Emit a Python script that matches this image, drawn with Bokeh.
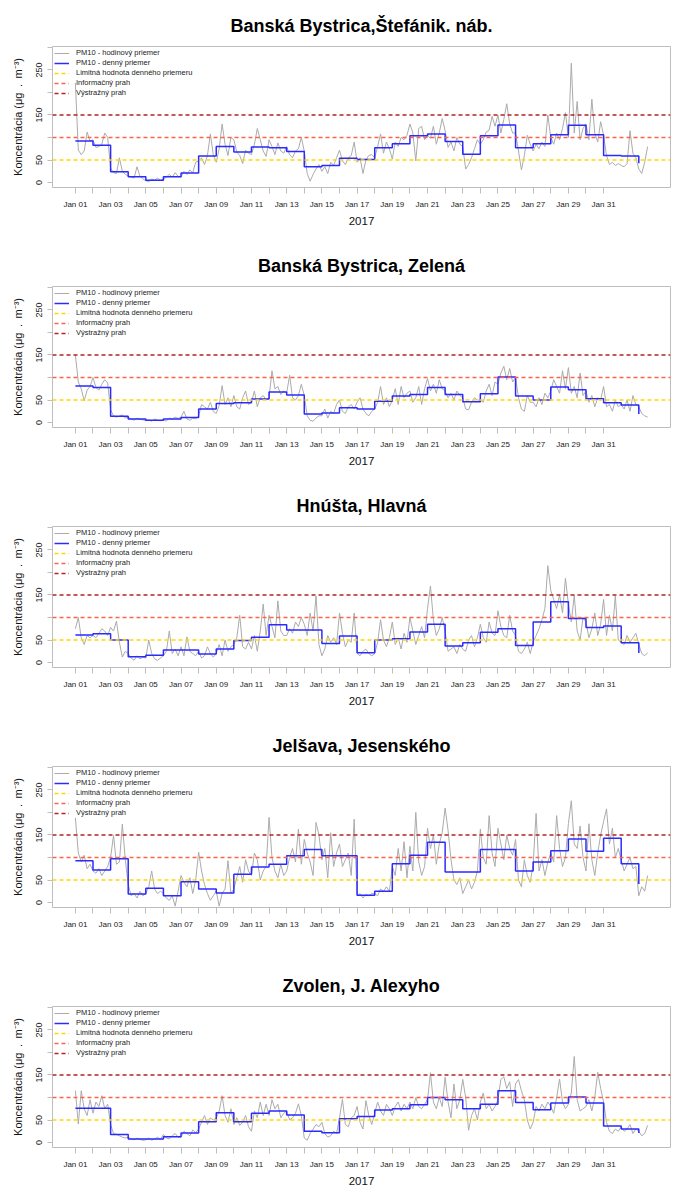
from bokeh.plotting import figure
from bokeh.layouts import column
from bokeh.models import Range1d, FixedTicker, Legend, LegendItem
from bokeh.embed import file_html
from bokeh.resources import INLINE

# ---------------- data ----------------
stations = ["Banská Bystrica,Štefánik. náb.", "Banská Bystrica, Zelená",
            "Hnúšta, Hlavná", "Jelšava, Jesenského", "Zvolen, J. Alexyho"]

x_tick_labels = ["Jan 01", "Jan 03", "Jan 05", "Jan 07", "Jan 09", "Jan 11", "Jan 13",
                 "Jan 15", "Jan 17", "Jan 19", "Jan 21", "Jan 23", "Jan 25", "Jan 27",
                 "Jan 29", "Jan 31"]
year_label = "2017"
y_ticks = [0, 50, 100, 150, 200, 250, 300]
y_tick_labels = ["0", "50", "", "150", "", "250", ""]

thresholds = [50, 100, 150]
threshold_names = ["Limitná hodnota denného priemeru", "Informačný prah", "Výstražný prah"]
series_names = ["PM10 - hodinový priemer", "PM10 - denný priemer"]

# daily means Jan 01 .. Feb 02
daily_p1 = [92, 83, 24, 13, 5, 13, 21, 59, 80, 68, 79, 77, 69, 35, 38, 54, 51, 77, 86, 104,
            108, 91, 63, 104, 128, 77, 86, 106, 127, 106, 60, 59, 43]
daily_p2 = [81, 78, 14, 8, 5, 8, 11, 30, 42, 44, 52, 68, 61, 19, 21, 33, 30, 47, 59, 62,
            78, 62, 46, 64, 101, 59, 50, 79, 73, 53, 44, 39, 19]
daily_p3 = [61, 64, 50, 13, 16, 28, 28, 19, 30, 49, 56, 84, 72, 72, 42, 59, 22, 50, 53, 68,
            85, 37, 44, 67, 75, 38, 90, 135, 98, 78, 81, 44, 21]
daily_p4 = [93, 72, 97, 19, 32, 15, 46, 30, 21, 63, 79, 85, 104, 118, 104, 104, 16, 25, 86, 105,
            134, 68, 68, 118, 118, 70, 90, 115, 141, 114, 143, 86, 41]
daily_p5 = [76, 76, 18, 8, 8, 13, 21, 46, 66, 46, 65, 70, 61, 25, 22, 53, 58, 72, 75, 84,
            100, 95, 75, 85, 115, 89, 73, 88, 101, 88, 37, 30, 21]

# hourly concentrations, read every 4 hours from Jan 01 00:00
hourly_p1 = [221, 72, 62, 70, 112, 92,   95, 78, 80, 85, 110, 100,   32, 22, 20, 55, 25, 18,
             15, 12, 10, 35, 14, 8,   4, 2, 8, 5, 10, 5,   8, 12, 18, 12, 22, 14,
             12, 25, 18, 28, 22, 45,   48, 55, 40, 60, 108, 62,   45, 75, 130, 85, 60, 100,
             95, 68, 60, 42, 72, 65,   62, 85, 120, 95, 70, 58,   95, 80, 62, 88, 70, 65,
             80, 62, 55, 70, 75, 100,   70, 20, 3, 18, 30, 40,   25, 35, 20, 45, 38, 55,
             72, 48, 40, 55, 60, 90,   45, 55, 20, 50, 60, 62,   55, 80, 108, 65, 90, 75,
             52, 90, 80, 100, 95, 105,   130, 110, 48, 120, 125, 95,   105, 98, 125, 85, 110, 142,
             115, 78, 90, 70, 100, 85,   80, 30, 40, 55, 75, 95,   85, 95, 112, 116, 147, 125,
             150, 110, 140, 175, 130, 110,   110, 70, 28, 60, 105, 85,   70, 85, 75, 90, 80, 150,
             100, 85, 110, 95, 120, 155,   100, 265, 110, 180, 95, 120,   130, 95, 185, 110, 90, 135,
             105, 60, 40, 45, 38, 42,   38, 35, 42, 115, 65, 55,   30, 20, 45, 80]
hourly_p2 = [150, 90, 75, 48, 72, 80,   100, 78, 72, 85, 95, 88,   28, 15, 12, 14, 17, 10,
             12, 8, 5, 10, 7, 6,   4, 6, 3, 8, 5, 4,   6, 3, 10, 8, 12, 9,
             12, 25, 8, 5, 10, 8,   15, 40, 35, 30, 45, 25,   20, 38, 82, 40, 55, 35,
             60, 35, 30, 55, 70, 40,   45, 70, 35, 55, 60, 50,   55, 115, 75, 80, 62, 70,
             65, 105, 55, 50, 60, 85,   60, 15, 5, 3, 10, 15,   15, 30, 10, 25, 20, 40,
             50, 25, 20, 35, 40, 30,   45, 55, 30, 20, 15, 25,   30, 45, 80, 40, 55, 35,
             50, 75, 40, 80, 55, 65,   70, 45, 55, 80, 40, 75,   98, 70, 85, 65, 95, 75,
             70, 55, 65, 50, 70, 60,   55, 30, 28, 45, 55, 50,   50, 45, 70, 85, 60, 90,
             85, 110, 125, 95, 120, 90,   100, 55, 30, 25, 60, 45,   45, 35, 55, 40, 65, 55,
             70, 95, 80, 65, 115, 75,   122, 65, 80, 55, 110, 60,   70, 45, 60, 35, 55, 50,
             80, 35, 40, 25, 50, 35,   40, 30, 50, 25, 60, 40,   35, 20, 15, 12]
hourly_p3 = [75, 100, 55, 40, 60, 55,   60, 55, 65, 75, 70, 60,   78, 70, 92, 45, 12, 25,
             20, 10, 5, 15, 8, 12,   10, 50, 20, 8, 5, 10,   15, 25, 70, 20, 30, 15,
             35, 15, 57, 25, 20, 15,   25, 10, 15, 35, 20, 12,   20, 40, 15, 50, 25, 35,
             40, 55, 105, 35, 30, 45,   30, 60, 25, 70, 130, 60,   105, 80, 55, 137, 70, 60,
             60, 75, 65, 90, 80, 100,   85, 60, 110, 70, 148, 40,   15, 30, 60, 45, 55, 40,
             110, 65, 35, 50, 45, 110,   20, 15, 25, 30, 20, 15,   20, 45, 95, 50, 35, 55,
             90, 40, 55, 30, 65, 45,   100, 70, 40, 60, 80, 55,   120, 170, 95, 60, 75, 100,
             70, 25, 30, 35, 20, 40,   30, 25, 50, 60, 35, 55,   85, 55, 45, 90, 65, 60,
             115, 80, 60, 55, 105, 70,   60, 25, 20, 30, 45, 20,   45, 60, 75, 95, 120, 215,
             160, 140, 120, 150, 110, 187,   130, 90, 149, 70, 50, 100,   90, 55, 75, 110, 60, 85,
             140, 60, 105, 70, 148, 50,   45, 40, 60, 45, 55, 65,   40, 20, 15, 22]
hourly_p4 = [188, 110, 90, 105, 75, 85,   70, 65, 75, 60, 70, 80,   100, 149, 85, 90, 174, 95,
             40, 15, 20, 10, 25, 15,   20, 35, 70, 30, 20, 25,   20, 10, 5, 15, -8, 25,
             60, 45, 35, 55, 20, 50,   112, 70, 40, 20, 5, 15,   25, -8, 20, 30, 93, 20,
             30, 55, 80, 45, 95, 70,   60, 110, 95, 50, 70, 80,   189, 100, 70, 55, 85, 60,
             70, 100, 120, 90, 163, 85,   140, 110, 90, 60, 178, 150,   95, 120, 55, 155, 80, 110,
             130, 80, 95, 110, 60, 185,   15, 20, 10, 18, 15, 20,   20, 15, 30, 25, 35, 25,
             80, 60, 120, 70, 135, 55,   125, 70, 200, 90, 60, 80,   165, 120, 150, 85, 130, 155,
             210, 160, 95, 50, 40, 55,   20, 35, 50, 30, 45, 70,   163, 100, 85, 193, 110, 80,
             165, 130, 95, 150, 120, 105,   140, 50, 35, 95, 60, 45,   85, 198, 70, 95, 60, 90,
             110, 90, 193, 120, 80, 100,   175, 226, 130, 120, 170, 100,   70, 175, 95, 60, 110, 150,
             180, 208, 130, 165, 100, 120,   95, 70, 85, 100, 75, 80,   15, 35, 25, 60]
hourly_p5 = [115, 41, 115, 75, 60, 95,   65, 90, 80, 104, 75, 85,   40, 20, 18, 15, 12, 10,
             12, 8, 6, 10, 7, 5,   6, 10, 5, 8, 12, 7,   18, 10, 8, 15, 20, 12,
             12, 25, 20, 15, 28, 22,   30, 45, 60, 40, 55, 50,   55, 70, 104, 60, 45, 75,
             40, 55, 38, 45, 60, 35,   25, 70, 55, 90, 60, 85,   60, 95, 75, 85, 55, 65,
             70, 50, 55, 65, 86, 60,   10, 5, 20, 30, 40, 35,   45, 20, 12, 15, 25, 20,
             55, 96, 40, 35, 55, 60,   80, 45, 30, 93, 60, 40,   65, 90, 70, 60, 85, 75,
             60, 80, 90, 70, 85, 75,   90, 75, 100, 80, 75, 85,   95, 155, 90, 75, 100, 80,
             145, 90, 55, 130, 75, 95,   140, 100, 27, 60, 75, 50,   90, 110, 75, 85, 70, 80,
             95, 140, 146, 120, 135, 80,   130, 140, 115, 95, 50, 30,   45, 80, 70, 85, 75, 90,
             80, 65, 100, 141, 90, 75,   85, 110, 191, 95, 70, 75,   80, 95, 70, 100, 156, 120,
             90, 45, 25, 20, 30, 25,   35, 25, 30, 40, 20, 30,   25, 15, 20, 38]

daily_all = [daily_p1, daily_p2, daily_p3, daily_p4, daily_p5]
hourly_all = [hourly_p1, hourly_p2, hourly_p3, hourly_p4, hourly_p5]

# ---------------- styling ----------------
FONT = "Liberation Sans"
GRAY = "#ABABAB"
BLUE = "#2B2BFF"
THR_COLORS = ["#FFD700", "#FF6347", "#B22222"]
BOX = "#BEBEBE"
X_START, X_END = -1.3, 33.8
Y_START, Y_END = -11, 302
STEP_H = 4  # hours between hourly samples

figs = []
n_panels = len(stations)
for k in range(n_panels):
    p = figure(width=691, height=240, x_range=Range1d(X_START, X_END),
               y_range=Range1d(Y_START, Y_END), output_backend="svg",
               toolbar_location=None, min_border_left=52, min_border_right=21,
               min_border_top=46, min_border_bottom=53)
    p.title.text = stations[k]
    p.title.align = "center"
    p.title.text_font = FONT
    p.title.text_font_size = "18px"
    p.title.text_font_style = "bold"
    p.title.text_color = "#000000"
    p.title.standoff = 21

    p.xgrid.visible = False
    p.ygrid.visible = False
    p.outline_line_color = BOX
    p.outline_line_width = 1
    p.background_fill_color = "white"
    p.border_fill_color = "white"

    hourly = hourly_all[k]
    daily = daily_all[k]
    t_hourly = [i * STEP_H / 24.0 for i in range(len(hourly))]
    t_daily = list(range(len(daily)))

    r_h = p.line(t_hourly, hourly, line_color=GRAY, line_width=1)
    r_d = p.step(t_daily, daily, mode="after", line_color=BLUE, line_width=1.5)
    thr_r = []
    for thr, col in zip(thresholds, THR_COLORS):
        thr_r.append(p.line([X_START, X_END], [thr, thr], line_color=col,
                            line_width=1.6, line_dash="4 3"))

    items = [LegendItem(label=series_names[0], renderers=[r_h]),
             LegendItem(label=series_names[1], renderers=[r_d])]
    for nm, rr in zip(threshold_names, thr_r):
        items.append(LegendItem(label=nm, renderers=[rr]))
    leg = Legend(items=items, location="top_left", margin=0, padding=2,
                 spacing=1, glyph_width=15, glyph_height=8, label_height=8,
                 label_standoff=7, label_text_font=FONT, label_text_font_size="7.5px",
                 label_text_color="#222222", background_fill_alpha=0,
                 border_line_alpha=0)
    p.add_layout(leg)

    # x axis
    xa = p.xaxis[0]
    xa.ticker = FixedTicker(ticks=list(range(31)))
    overrides = {}
    for d in range(31):
        overrides[d] = x_tick_labels[d // 2] if d % 2 == 0 else ""
    xa.major_label_overrides = overrides
    xa.minor_tick_line_color = None
    xa.major_tick_in = 0
    xa.major_tick_out = 6
    xa.major_tick_line_color = BOX
    xa.axis_line_color = None
    xa.major_label_text_font = FONT
    xa.major_label_text_font_size = "8px"
    xa.major_label_text_color = "#222222"
    xa.major_label_standoff = 6
    xa.axis_label = year_label
    xa.axis_label_text_font = FONT
    xa.axis_label_text_font_size = "11.5px"
    xa.axis_label_text_font_style = "normal"
    xa.axis_label_text_color = "#111111"
    xa.axis_label_standoff = 5

    # y axis
    ya = p.yaxis[0]
    ya.ticker = FixedTicker(ticks=y_ticks)
    ya.major_label_overrides = {t: l for t, l in zip(y_ticks, y_tick_labels)}
    ya.minor_tick_line_color = None
    ya.major_tick_in = 0
    ya.major_tick_out = 5
    ya.major_tick_line_color = BOX
    ya.axis_line_color = None
    ya.major_label_orientation = "vertical"
    ya.major_label_text_font = FONT
    ya.major_label_text_font_size = "9px"
    ya.major_label_text_color = "#222222"
    ya.major_label_standoff = 5
    ya.axis_label = "Koncentrácia (μg\u2002.\u2002m⁻³)"
    ya.axis_label_text_font = FONT
    ya.axis_label_text_font_size = "11px"
    ya.axis_label_text_font_style = "normal"
    ya.axis_label_text_color = "#111111"
    ya.axis_label_standoff = 10

    figs.append(p)

layout = column(*figs, spacing=0)
open("out.html", "w").write(file_html(layout, INLINE))
